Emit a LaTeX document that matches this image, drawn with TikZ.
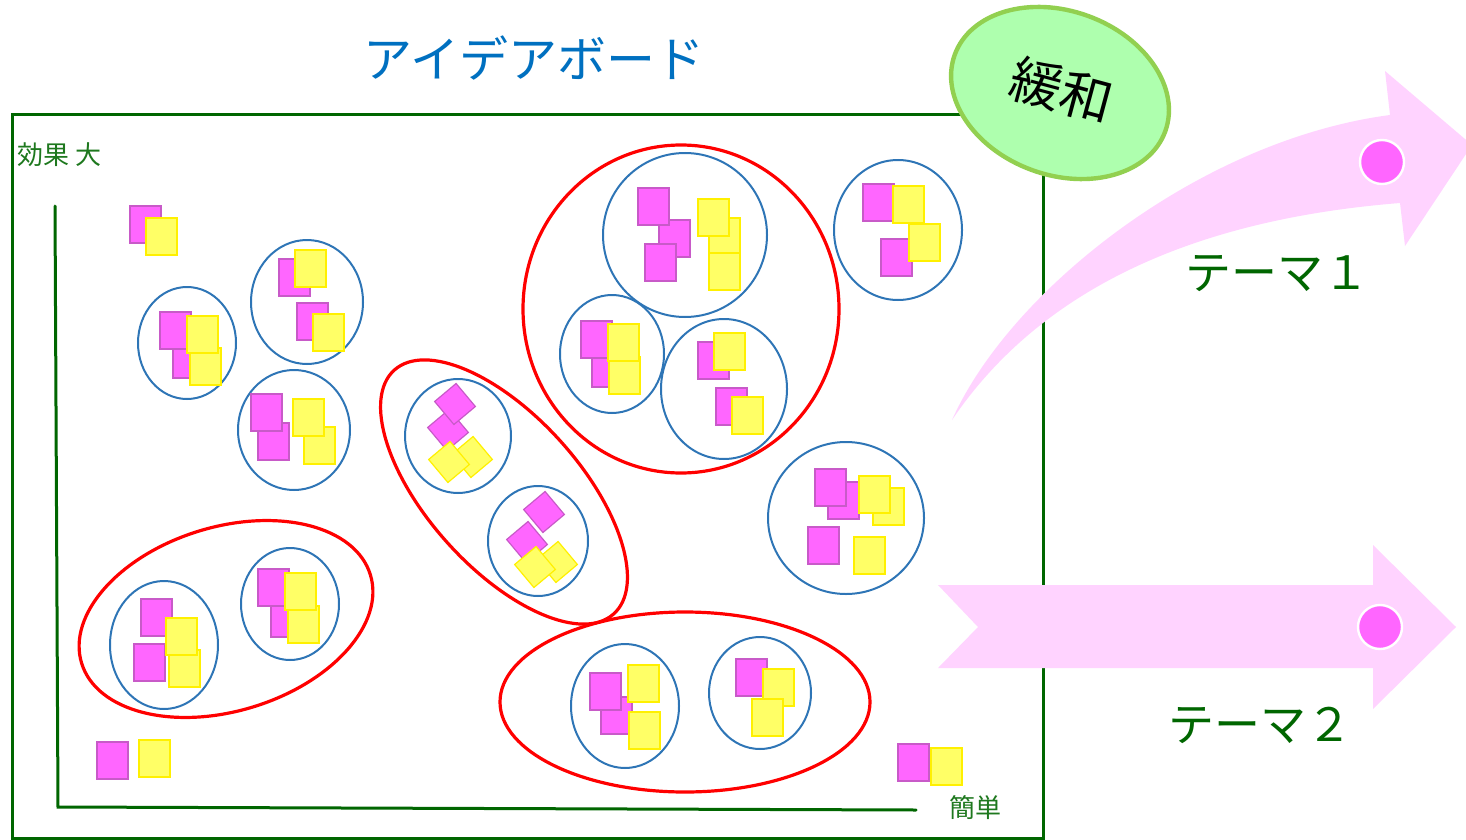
\documentclass[tikz,border=0pt]{standalone}
\usepackage{fontspec}
\setmainfont{Noto Sans CJK JP}
\newfontfamily\cjk{Noto Sans CJK JP}
\definecolor{mfill}{RGB}{255,102,255}
\definecolor{mdraw}{RGB}{200,90,200}
\definecolor{yfill}{RGB}{255,255,102}
\definecolor{ydraw}{RGB}{255,240,0}
\definecolor{ringblue}{RGB}{46,117,182}
\definecolor{boardgreen}{RGB}{0,102,0}
\definecolor{labelgreen}{RGB}{30,120,30}
\definecolor{titleblue}{RGB}{0,112,192}
\definecolor{arrowpink}{RGB}{255,211,255}
\definecolor{calmfill}{RGB}{174,255,174}
\definecolor{calmdraw}{RGB}{146,208,80}
\tikzset{
  mnote/.style={fill=mfill, draw=mdraw, line width=0.6pt},
  ynote/.style={fill=yfill, draw=ydraw, line width=0.6pt},
  bluering/.style={draw=ringblue, line width=1pt},
  redring/.style={draw=red, line width=1.6pt},
  boardframe/.style={draw=boardgreen, line width=1.5pt},
  axisline/.style={draw=boardgreen, line width=1.5pt, line cap=round},
  pinkarrow/.style={fill=arrowpink, draw=none},
  dotmark/.style={circle, fill=mfill, draw=white, line width=1.2pt, minimum size=22pt, inner sep=0pt},
}
\newcommand\Mnote[2]{\draw[mnote] (#1,#2) rectangle ++(31,37);}
\newcommand\Ynote[2]{\draw[ynote] (#1,#2) rectangle ++(31,37);}
\newcommand\Mdia[2]{\draw[mnote,shift={(#1,#2)},rotate=40] (-14,-15) rectangle (14,15);}
\newcommand\Ydia[2]{\draw[ynote,shift={(#1,#2)},rotate=40] (-14,-15) rectangle (14,15);}
\newcommand\Bring[4]{\draw[bluering] (#1,#2) ellipse [x radius=#3, y radius=#4];}
\begin{document}
\begin{tikzpicture}[x=0.5pt,y=-0.5pt]
\useasboundingbox (0,0) rectangle (1466,840);
\clip (0,0) rectangle (1466,840);

% board
\draw[boardframe] (12,115) rectangle (1043,838);
\coordinate (ytop) at (55,206);
\coordinate (origin) at (58,807);
\coordinate (xend) at (916,810);
\draw[axisline] (ytop) -- (origin) -- (xend);

% lone notes
\Mnote{130}{206}\Ynote{146}{218}
\Mnote{97}{742}\Ynote{139}{740}
\Mnote{898}{744}\Ynote{931}{748}

% circle A
\Bring{187}{343}{49}{56}
\Mnote{173}{341}\Mnote{160}{312}\Ynote{190}{348}\Ynote{187}{316}
% circle B
\Bring{307}{302}{56}{62}
\Mnote{279}{259}\Ynote{295}{250}\Mnote{297}{303}\Ynote{313}{314}
% circle C
\Bring{294}{430}{56}{60}
\Mnote{258}{423}\Mnote{251}{394}\Ynote{304}{427}\Ynote{293}{399}

% diamond group
\draw[redring, rotate around={-48:(504,492)}] (504,492) ellipse [x radius=164, y radius=76];
\Bring{458}{436}{53}{57}
\Mdia{448}{430}\Mdia{455}{404}\Ydia{472}{457}\Ydia{449}{462}
\Bring{538}{541}{50}{55}
\Mdia{527}{542}\Mdia{544}{512}\Ydia{557}{562}\Ydia{535}{567}

% big red group
\draw[redring] (681,309) ellipse [x radius=158, y radius=164];
\Bring{685}{235}{82}{82}
\Mnote{659}{220}\Mnote{638}{188}\Mnote{645}{244}\Ynote{709}{218}\Ynote{709}{253}\Ynote{698}{199}
\Bring{612}{354}{52}{59}
\Mnote{592}{350}\Mnote{581}{321}\Ynote{609}{357}\Ynote{608}{324}
\Bring{724}{389}{63}{70}
\Mnote{698}{342}\Ynote{714}{333}\Mnote{716}{388}\Ynote{732}{397}

% right circles
\Bring{898}{230}{64}{70}
\Mnote{863}{184}\Ynote{893}{186}\Mnote{881}{239}\Ynote{909}{224}
\Bring{846}{518}{78}{76}
\Mnote{828}{482}\Mnote{815}{469}\Ynote{873}{488}\Ynote{859}{476}\Mnote{808}{527}\Ynote{854}{537}

% lower-left group
\draw[redring, rotate around={17:(226,619)}] (226,619) ellipse [x radius=151, y radius=92];
\Bring{164}{645}{54}{64}
\Mnote{141}{599}\Mnote{134}{644}\Ynote{169}{650}\Ynote{166}{618}
\Bring{290}{604}{49}{56}
\Mnote{271}{600}\Mnote{258}{569}\Ynote{288}{606}\Ynote{285}{573}

% bottom group
\draw[redring] (685,702) ellipse [x radius=185, y radius=90];
\Bring{625}{706}{54}{62}
\Mnote{601}{697}\Mnote{590}{673}\Ynote{628}{665}\Ynote{629}{712}
\Bring{760}{693}{51}{56}
\Mnote{736}{659}\Ynote{763}{669}\Ynote{752}{699}

% labels on board
\node[anchor=west, text=labelgreen, font=\cjk\fontsize{13}{15}\selectfont, inner sep=0pt] (effect) at (17,155) {効果 大};
\node[text=labelgreen, font=\cjk\fontsize{13}{15}\selectfont, inner sep=0pt] (easy) at (975,808) {簡単};
\node[text=titleblue, font=\cjk\fontsize{24.5}{28}\selectfont, inner sep=0pt] (title) at (534,58) {アイデアボード};

% calm ellipse
\draw[fill=calmfill, draw=calmdraw, line width=2.2pt, rotate around={-20:(1060,93)}] (1060,93) ellipse [x radius=112, y radius=82];
\node[rotate=-15, font=\cjk\fontsize{26}{30}\selectfont, inner sep=0pt] (calm) at (1062,90) {緩和};

% curved arrow (theme 1)
\fill[pinkarrow] (952,420) .. controls (1010,290) and (1200,140) .. (1390,115)
  -- (1385,71) -- (1472,145) -- (1405,246) -- (1400,203)
  .. controls (1250,215) and (1060,260) .. (952,420) -- cycle;
\node[dotmark] (dot1) at (1382,162) {};
\node[text=boardgreen, font=\cjk\fontsize{23}{27}\selectfont, inner sep=0pt] (theme1) at (1277,274) {テーマ１};

% straight arrow (theme 2)
\fill[pinkarrow] (938,585) -- (1373,585) -- (1373,545) -- (1456,627) -- (1373,709)
  -- (1373,668) -- (938,668) -- (978,627) -- cycle;
\node[dotmark] (dot2) at (1380,627) {};
\node[text=boardgreen, font=\cjk\fontsize{23}{27}\selectfont, inner sep=0pt] (theme2) at (1260,725) {テーマ２};
\end{tikzpicture}
\end{document}
